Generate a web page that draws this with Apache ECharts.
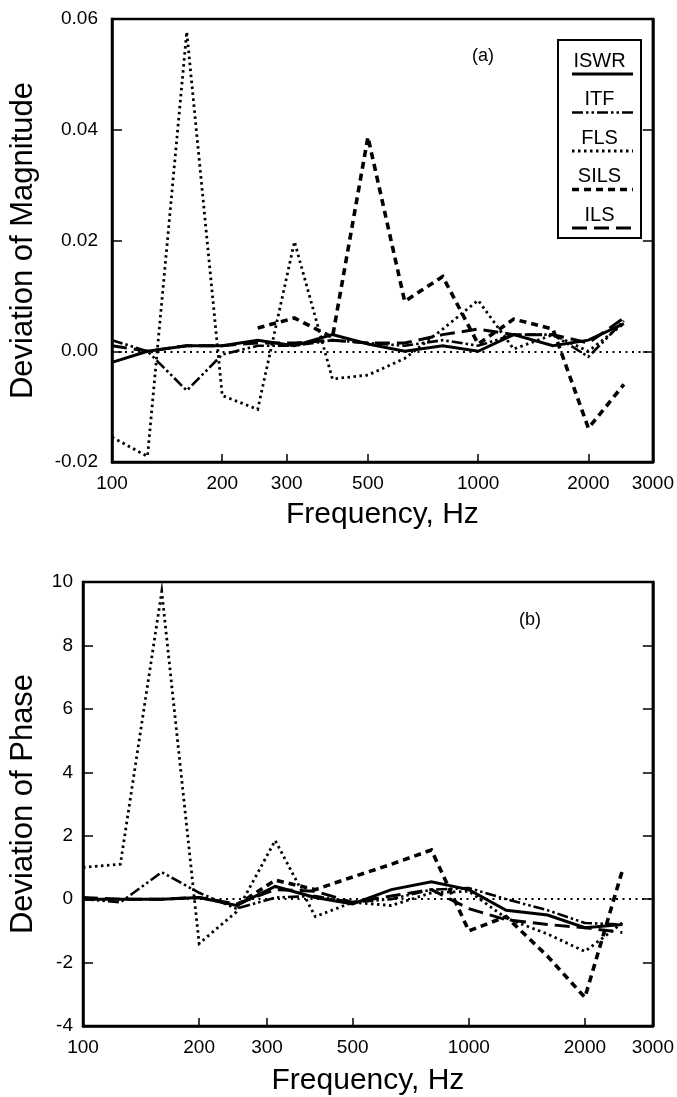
<!DOCTYPE html>
<html><head><meta charset="utf-8">
<script src="https://cdn.jsdelivr.net/npm/echarts@6/dist/echarts.min.js"></script>
<style>html,body{margin:0;padding:0;background:#fff}#c{width:677px;height:1097px}</style>
</head><body><div id="c"></div>
<script>
// 1/3-octave band centre frequencies (Hz)
const freqs = [100, 125, 160, 200, 250, 315, 400, 500, 630, 800, 1000, 1250, 1600, 2000, 2500];
const xTickLabels = [100, 200, 300, 500, 1000, 2000, 3000];
const seriesNames = ['ISWR', 'ITF', 'FLS', 'SILS', 'ILS'];

// Panel (a): deviation of magnitude
const magISWR = [-0.002, 0.000, 0.001, 0.001, 0.002, 0.001, 0.003, 0.0013, 0.000, 0.001, 0.000, 0.003, 0.001, 0.002, 0.005];
const magITF  = [0.002, 0.000, -0.0071, -0.0006, 0.001, 0.001, 0.002, 0.0015, 0.001, 0.002, 0.001, 0.003, 0.003, -0.001, 0.0055];
const magFLS  = [-0.0155, -0.019, 0.0577, -0.008, -0.0105, 0.0198, -0.005, -0.0043, -0.0013, 0.004, 0.0092, 0.0004, 0.003, 0.000, 0.005];
const magSILS = [null, null, null, null, 0.0042, 0.006, 0.0025, 0.0387, 0.009, 0.0135, 0.0013, 0.0058, 0.004, -0.0139, -0.006];
const magILS  = [0.001, 0.000, 0.001, 0.001, 0.0015, 0.0015, 0.002, 0.0015, 0.0015, 0.003, 0.004, 0.003, 0.003, 0.0015, 0.006];

// Panel (b): deviation of phase
const phISWR = [0.0, 0.0, 0.0, 0.05, -0.2, 0.4, 0.05, -0.15, 0.3, 0.55, 0.3, -0.35, -0.5, -0.9, -0.8];
const phITF  = [0.0, -0.1, 0.85, 0.2, -0.3, 0.05, 0.1, -0.1, 0.0, 0.3, 0.35, 0.0, -0.35, -0.75, -0.8];
const phFLS  = [1.0, 1.1, 9.7, -1.4, -0.4, 1.85, -0.55, -0.1, -0.2, 0.2, 0.25, -0.6, -1.1, -1.65, -0.75];
const phSILS = [null, null, null, null, -0.2, 0.6, 0.3, 0.7, 1.1, 1.55, -1.0, -0.55, -1.8, -3.1, 0.9];
const phILS  = [0.05, 0.0, 0.0, 0.05, -0.15, 0.3, 0.25, -0.1, 0.1, 0.3, -0.3, -0.65, -0.8, -0.9, -1.05];

const lineStyles = {
  ISWR: { width: 3,   type: 'solid' },
  ITF:  { width: 2.6, type: [11, 3, 2.5, 3, 2.5, 3] },
  FLS:  { width: 2.8, type: [2.5, 3.5] },
  SILS: { width: 3.6, type: [7, 5] },
  ILS:  { width: 3,   type: [15, 7] }
};

const FONT = '"Liberation Sans", Arial, Helvetica, sans-serif';
const magData = { ISWR: magISWR, ITF: magITF, FLS: magFLS, SILS: magSILS, ILS: magILS };
const phData  = { ISWR: phISWR, ITF: phITF, FLS: phFLS, SILS: phSILS, ILS: phILS };

function pairs(arr) {
  const out = [];
  freqs.forEach((f, i) => { if (arr[i] !== null) out.push([f, arr[i]]); });
  return out;
}

function makeSeries(dataMap, gi) {
  const list = seriesNames.map((name) => ({
    name: name + (gi ? ' ' : ''),
    type: 'line',
    xAxisIndex: gi, yAxisIndex: gi * 2,
    data: pairs(dataMap[name]),
    symbol: 'none',
    lineStyle: Object.assign({ color: '#000', cap: 'butt', join: 'miter' }, lineStyles[name]),
    z: 3
  }));
  // dotted zero reference line across the plot
  list.push({
    name: 'zero' + gi, type: 'line', xAxisIndex: gi, yAxisIndex: gi * 2,
    data: [], symbol: 'none', silent: true,
    markLine: {
      silent: true, symbol: ['none', 'none'], label: { show: false },
      lineStyle: { color: '#000', type: [2, 4.5], width: 2, cap: 'butt' },
      data: [{ yAxis: 0 }], animation: false
    }
  });
  return list;
}

function xAxisFor(gi, nameGap) {
  return {
    type: 'log', logBase: 10, min: 100, max: 3000, gridIndex: gi,
    name: 'Frequency, Hz', nameLocation: 'middle', nameGap: nameGap,
    nameTextStyle: { fontFamily: FONT, fontSize: 30, color: '#000' },
    axisLine: { show: true, onZero: false, lineStyle: { color: '#000', width: 2.5 } },
    axisTick: { show: true, inside: true, length: 8, lineStyle: { color: '#000', width: 1.5 }, customValues: xTickLabels.slice(1, -1) },
    minorTick: { show: false },
    splitLine: { show: false },
    axisLabel: { fontFamily: FONT, fontSize: 19, color: '#000', margin: 12, customValues: xTickLabels, formatter: v => String(Math.round(v)) }
  };
}

function yAxesFor(gi, min, max, interval, name, nameGap, margin, fmt) {
  return [{
    type: 'value', gridIndex: gi, min: min, max: max, interval: interval, position: 'left',
    name: name, nameLocation: 'middle', nameGap: nameGap,
    nameTextStyle: { fontFamily: FONT, fontSize: 31, color: '#000' },
    axisLine: { show: true, onZero: false, lineStyle: { color: '#000', width: 2.5 } },
    axisTick: { show: true, inside: true, length: 10, lineStyle: { color: '#000', width: 1.5 } },
    splitLine: { show: false },
    axisLabel: { fontFamily: FONT, fontSize: 19, color: '#000', margin: margin, formatter: fmt }
  }, {
    type: 'value', gridIndex: gi, min: min, max: max, interval: interval, position: 'right',
    axisLine: { show: true, onZero: false, lineStyle: { color: '#000', width: 2.5 } },
    axisTick: { show: true, inside: true, length: 10, lineStyle: { color: '#000', width: 1.5 } },
    splitLine: { show: false },
    axisLabel: { show: false }
  }];
}

// Legend drawn as boxed entries: label text above a sample of the line style
const legendTop = 40, legendLeft = 558, legendW = 83, legendH = 198, rowH = 38.5;
const legendChildren = [{
  type: 'rect', shape: { x: 0, y: 0, width: legendW, height: legendH },
  style: { fill: '#fff', stroke: '#000', lineWidth: 2 }
}];
seriesNames.forEach((name, i) => {
  const ls = lineStyles[name];
  legendChildren.push({
    type: 'text', x: legendW / 2, y: 21 + i * rowH,
    style: { text: name, fontFamily: FONT, fontSize: 20, fill: '#000', align: 'center', verticalAlign: 'middle' }
  });
  legendChildren.push({
    type: 'line', shape: { x1: 14, y1: 34 + i * rowH, x2: legendW - 8, y2: 34 + i * rowH },
    style: { stroke: '#000', lineWidth: ls.width, lineDash: Array.isArray(ls.type) ? ls.type : null }
  });
});

const chart = echarts.init(document.getElementById('c'), null, { renderer: 'canvas' });
chart.setOption({
  animation: false,
  backgroundColor: '#fff',
  grid: [
    { left: 110, right: 21, top: 19, height: 443, show: true, borderColor: '#000', borderWidth: 2.5, backgroundColor: 'transparent' },
    { left: 78, right: 23, top: 582, height: 446, show: true, borderColor: '#000', borderWidth: 2.5, backgroundColor: 'transparent' }
  ],
  xAxis: [xAxisFor(0, 38), xAxisFor(1, 40)],
  yAxis: [].concat(
    yAxesFor(0, -0.02, 0.06, 0.02, 'Deviation of Magnitude', 73, 14, v => v.toFixed(2)),
    yAxesFor(1, -4, 10, 2, 'Deviation of Phase', 44, 10, v => String(Math.round(v)))
  ),
  series: [].concat(makeSeries(magData, 0), makeSeries(phData, 1)),
  graphic: [
    { type: 'text', x: 483, y: 56, style: { text: '(a)', fontFamily: FONT, fontSize: 18, fill: '#000', align: 'center', verticalAlign: 'middle' } },
    { type: 'text', x: 530, y: 620, style: { text: '(b)', fontFamily: FONT, fontSize: 18, fill: '#000', align: 'center', verticalAlign: 'middle' } },
    { type: 'group', x: legendLeft, y: legendTop, children: legendChildren, z: 100 }
  ]
});
</script>
</body></html>
